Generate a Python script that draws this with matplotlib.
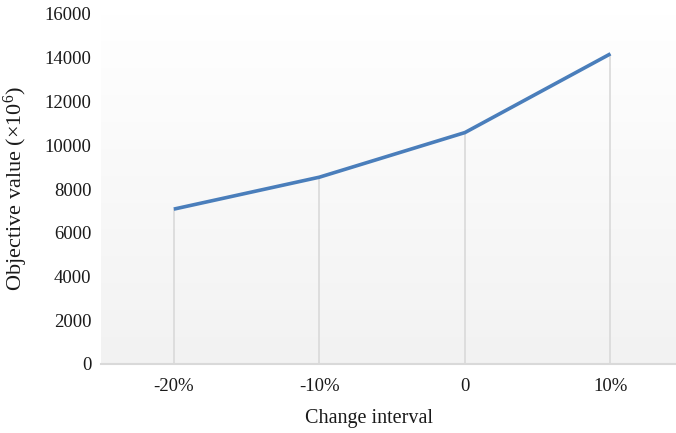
import numpy as np
import matplotlib
matplotlib.use('Agg')
import matplotlib.pyplot as plt
from matplotlib.colors import LinearSegmentedColormap

categories = ['-20%', '-10%', '0', '10%']
values = [7080, 8540, 10580, 14180]
yticks = [0, 2000, 4000, 6000, 8000, 10000, 12000, 14000, 16000]

plt.rcParams['font.family'] = ['Liberation Serif', 'DejaVu Serif']
plt.rcParams['mathtext.fontset'] = 'custom'
plt.rcParams['mathtext.rm'] = 'Liberation Serif'
plt.rcParams['mathtext.it'] = 'Liberation Serif'

fig = plt.figure(figsize=(6.76, 4.33), dpi=100)
ax = fig.add_axes([101 / 676, 1 - 364 / 433, 1 - 101 / 676, 350 / 433])

x = np.arange(len(categories))

# background gradient, white at top to light grey at bottom
cmap = LinearSegmentedColormap.from_list('bg', ['#f2f2f2', '#ffffff'])
grad = np.linspace(0, 1, 256).reshape(-1, 1)
ax.imshow(grad, cmap=cmap, aspect='auto', origin='lower',
          extent=[0, 1, 0, 1], transform=ax.transAxes, zorder=0)

# drop lines
ax.vlines(x, 0, values, color='#d9d9d9', lw=1.2, zorder=1)
ax.plot(x, values, color='#4a7ebb', lw=2.6, solid_capstyle='butt', zorder=3)

ax.set_xlim(-0.5, 3.45)
ax.set_ylim(0, 16000)
ax.set_xticks(x)
ax.set_xticklabels(categories)
ax.set_yticks(yticks)
ax.tick_params(length=0, labelsize=13.5, colors='#1a1a1a')
ax.tick_params(axis='x', pad=10)
ax.tick_params(axis='y', pad=7)

for s in ['top', 'right', 'left']:
    ax.spines[s].set_visible(False)
ax.spines['bottom'].set_color('#d9d9d9')
ax.spines['bottom'].set_linewidth(1.5)
ax.spines['bottom'].set_zorder(2)

ax.set_xlabel('Change interval', fontsize=14.5, color='#1a1a1a')
ax.xaxis.set_label_coords(0.466, -0.13)
ax.set_ylabel('Objective value (×10$^{6}$)', fontsize=16, color='#1a1a1a')
ax.yaxis.set_label_coords(-0.123, 0.5)

fig.savefig('out.png', dpi=100)
